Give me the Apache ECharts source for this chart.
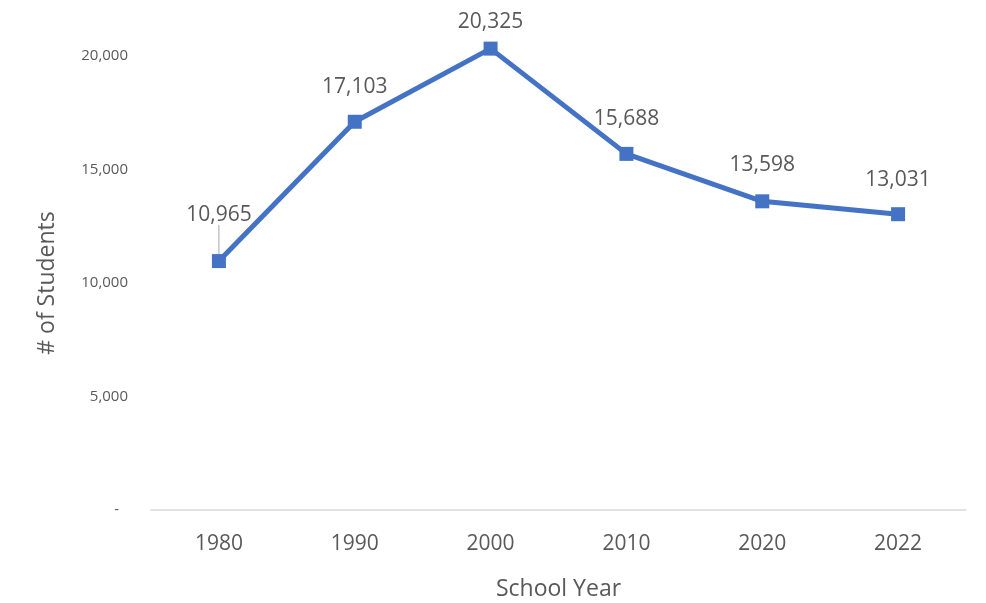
<!DOCTYPE html>
<html>
<head>
<meta charset="utf-8">
<script src="https://cdn.jsdelivr.net/npm/echarts@6/dist/echarts.min.js"></script>
<style>
html,body{margin:0;padding:0;background:#fff;}
#chart{width:986px;height:603px;}
</style>
</head>
<body>
<div id="chart"></div>
<script>
const years = ['1980', '1990', '2000', '2010', '2020', '2022'];
const students = [10965, 17103, 20325, 15688, 13598, 13031];
const yAxisTitle = '# of Students';
const xAxisTitle = 'School Year';

const FONT = '"Open Sans", "Segoe UI", sans-serif';
const fmt = v => v.toLocaleString('en-US');

// Per-point label tweaks (styling only)
const seriesData = students.map((v, i) => {
  if (i === 0) {
    return { value: v, labelLine: { show: true, lineStyle: { color: '#a6a6a6', width: 1 } } };
  }
  return { value: v, labelLine: { show: false } };
});

const chart = echarts.init(document.getElementById('chart'));
chart.setOption({
  backgroundColor: '#ffffff',
  animation: false,
  grid: { left: 151, right: 20, top: 56, bottom: 93, containLabel: false, outerBoundsMode: 'none' },
  xAxis: {
    type: 'category',
    data: years,
    boundaryGap: true,
    axisLine: { show: true, lineStyle: { color: '#d9d9d9', width: 1.5 } },
    axisTick: { show: false },
    axisLabel: { color: '#595959', fontSize: 21, fontFamily: FONT, margin: 24 },
    name: xAxisTitle,
    nameLocation: 'middle',
    nameGap: 68,
    nameTextStyle: { color: '#595959', fontSize: 23, fontFamily: FONT }
  },
  yAxis: {
    type: 'value',
    min: 0,
    max: 20000,
    interval: 5000,
    axisLine: { show: false },
    axisTick: { show: false },
    splitLine: { show: false },
    axisLabel: {
      color: '#595959', fontSize: 15, fontFamily: FONT, margin: 23,
      formatter: v => v === 0 ? '{z|-}' : fmt(v),
      rich: { z: { color: '#595959', fontSize: 15, fontFamily: FONT, padding: [0, 9, 0, 0] } }
    },
    name: yAxisTitle,
    nameLocation: 'middle',
    nameGap: 92,
    nameTextStyle: { color: '#595959', fontSize: 23, fontFamily: FONT }
  },
  series: [{
    type: 'line',
    data: seriesData,
    clip: false,
    symbol: 'rect',
    symbolSize: 14,
    itemStyle: { color: '#4472C4' },
    lineStyle: { color: '#4472C4', width: 5 },
    label: {
      show: true,
      position: 'top',
      distance: 17,
      color: '#595959',
      fontSize: 21,
      fontFamily: FONT,
      formatter: p => fmt(p.value)
    },
    labelLayout: p => {
      if (p.dataIndex === 0) return { dy: -12 };
      if (p.dataIndex === 2) return { dy: 8 };
      if (p.dataIndex === 4) return { dy: -2 };
      return {};
    }
  }]
});
</script>
</body>
</html>
